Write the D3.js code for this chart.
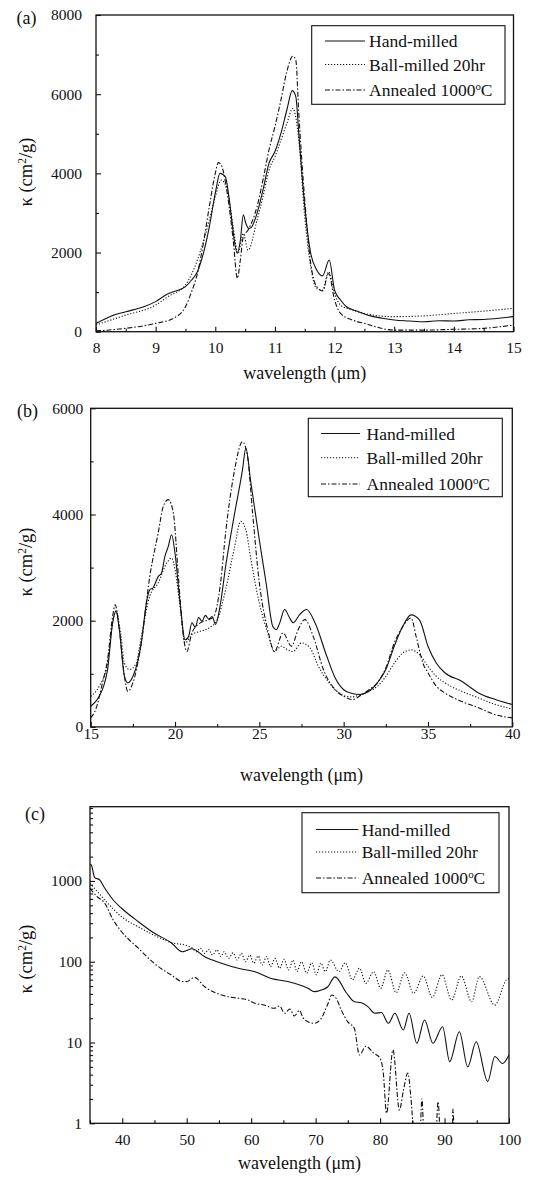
<!DOCTYPE html>
<html>
<head>
<meta charset="utf-8">
<script src="https://cdn.jsdelivr.net/npm/d3@7"></script>
<style>
  body { margin: 0; background: #fff; }
  svg { display: block; }
</style>
</head>
<body>
<svg id="chart" width="533" height="1180"></svg>
<script>
// legend labels and tick labels
const seriesNames = ['Hand-milled', 'Ball-milled 20hr', 'Annealed 1000°C'];
const aXTicks = [8, 9, 10, 11, 12, 13, 14, 15];
const aYTicks = [0, 2000, 4000, 6000, 8000];
const bXTicks = [15, 20, 25, 30, 35, 40];
const bYTicks = [0, 2000, 4000, 6000];
const cXTicks = [40, 50, 60, 70, 80, 90, 100];
const cYTicks = [1, 10, 100, 1000];

// (a) 8-15 um
const aHandX = [8.0, 8.15, 8.3, 8.5, 8.8, 9.0, 9.2, 9.3, 9.5, 9.6, 9.7, 9.8, 9.9, 10.0, 10.08, 10.17, 10.22, 10.27, 10.31, 10.37, 10.42, 10.47, 10.51, 10.56, 10.6, 10.7, 10.8, 10.9, 11.0, 11.1, 11.2, 11.29, 11.35, 11.4, 11.5, 11.6, 11.7, 11.8, 11.91, 12.0, 12.1, 12.2, 12.4, 12.6, 12.8, 13.0, 13.25, 13.5, 13.75, 14.0, 14.25, 14.5, 14.75, 15.0];
const aHandY = [210, 320, 420, 505, 630, 760, 950, 1010, 1140, 1300, 1515, 1980, 2650, 3500, 4000, 3910, 3500, 2900, 2400, 1980, 2300, 2950, 2750, 2610, 2630, 2990, 3580, 4250, 4550, 5010, 5600, 6090, 5940, 5010, 3160, 1980, 1560, 1410, 1810, 1050, 800, 630, 505, 400, 340, 295, 270, 250, 275, 270, 300, 310, 340, 380];
const aBallX = [8.0, 8.5, 9.0, 9.2, 9.5, 9.7, 9.9, 10.0, 10.1, 10.2, 10.3, 10.38, 10.47, 10.55, 10.7, 10.8, 10.9, 11.0, 11.1, 11.2, 11.3, 11.4, 11.5, 11.6, 11.7, 11.8, 11.9, 12.0, 12.1, 12.3, 12.5, 13.0, 13.5, 14.0, 14.5, 15.0];
const aBallY = [170, 420, 670, 880, 1180, 1810, 2820, 3410, 3830, 3580, 2650, 1980, 2480, 2060, 2820, 3410, 4080, 4420, 4840, 5260, 5640, 4840, 2900, 1640, 1090, 1050, 1515, 970, 670, 550, 460, 380, 400, 460, 520, 590];
const aAnnX = [8.0, 8.5, 9.0, 9.3, 9.5, 9.6, 9.7, 9.8, 9.9, 10.0, 10.05, 10.1, 10.2, 10.3, 10.37, 10.42, 10.47, 10.55, 10.7, 10.8, 10.9, 11.0, 11.1, 11.2, 11.3, 11.35, 11.4, 11.5, 11.6, 11.7, 11.8, 11.9, 12.0, 12.1, 12.3, 12.5, 13.0, 13.5, 14.0, 14.5, 15.0];
const aAnnY = [20, 85, 210, 340, 630, 1000, 1470, 2230, 3160, 4000, 4270, 4210, 3500, 2320, 1350, 1810, 2400, 2570, 3160, 3830, 4590, 5180, 5850, 6570, 6960, 6860, 5520, 3330, 1730, 1140, 1030, 1470, 800, 460, 295, 210, 40, 40, 60, 85, 170];

// (b) 15-40 um
const bHandX = [15.0, 15.3, 15.5, 15.8, 16.0, 16.3, 16.5, 16.7, 17.0, 17.2, 17.5, 17.8, 18.0, 18.3, 18.5, 18.7, 19.0, 19.2, 19.4, 19.6, 19.8, 20.0, 20.3, 20.6, 20.8, 21.0, 21.2, 21.4, 21.6, 21.8, 22.0, 22.2, 22.4, 22.7, 23.0, 23.5, 24.0, 24.2, 24.5, 25.0, 25.4, 25.8, 26.0, 26.2, 26.5, 26.8, 27.0, 27.4, 27.8, 28.3, 29.0, 29.5, 30.0, 30.5, 31.0, 31.5, 32.0, 32.5, 33.0, 33.5, 34.0, 34.5, 35.0, 35.5, 36.0, 37.0, 38.0, 39.0, 40.0];
const bHandY = [390, 480, 577, 800, 1080, 1960, 2180, 1830, 950, 830, 950, 1250, 1580, 2330, 2580, 2620, 2830, 2900, 3210, 3400, 3620, 3270, 2330, 1640, 1700, 1960, 1880, 2060, 1990, 2100, 2030, 2080, 1930, 2330, 3020, 3960, 4840, 5250, 4590, 3520, 2710, 1890, 1830, 1950, 2210, 2050, 1960, 2120, 2210, 1960, 1330, 920, 700, 630, 610, 670, 830, 1080, 1520, 1890, 2110, 2010, 1520, 1200, 1020, 860, 640, 515, 420];
const bBallX = [15.0, 15.5, 16.0, 16.3, 16.5, 16.8, 17.0, 17.3, 17.7, 18.0, 18.5, 19.0, 19.5, 19.8, 20.0, 20.3, 20.6, 21.0, 21.5, 22.0, 22.5, 23.0, 23.5, 23.9, 24.2, 24.5, 25.0, 25.5, 25.9, 26.3, 26.7, 27.0, 27.5, 28.0, 28.5, 29.0, 29.5, 30.0, 30.5, 31.0, 31.5, 32.0, 32.5, 33.0, 33.5, 34.0, 34.5, 35.0, 35.5, 36.0, 37.0, 38.0, 39.0, 40.0];
const bBallY = [577, 765, 1200, 1960, 2180, 1700, 1200, 1080, 1200, 1700, 2460, 2710, 3080, 3180, 2960, 2270, 1580, 1740, 1800, 1860, 2020, 2580, 3340, 3870, 3710, 3150, 2330, 1770, 1420, 1520, 1450, 1420, 1580, 1490, 1140, 890, 700, 590, 565, 610, 670, 765, 950, 1200, 1390, 1450, 1360, 1140, 950, 830, 670, 545, 420, 340];
const bAnnX = [15.0, 15.3, 15.7, 16.0, 16.3, 16.45, 16.7, 17.0, 17.2, 17.5, 18.0, 18.5, 19.0, 19.3, 19.6, 19.9, 20.2, 20.5, 20.7, 21.0, 21.5, 22.0, 22.3, 22.7, 23.0, 23.5, 24.0, 24.3, 24.6, 25.0, 25.5, 25.9, 26.4, 26.9, 27.3, 27.7, 28.2, 28.8, 29.5, 30.0, 30.5, 31.0, 31.5, 32.0, 32.5, 33.0, 33.5, 34.0, 34.3, 34.7, 35.0, 35.5, 36.0, 37.0, 38.0, 39.0, 40.0];
const bAnnY = [170, 330, 830, 1270, 2080, 2300, 1830, 950, 670, 830, 1580, 2830, 3650, 4150, 4280, 4030, 2830, 1700, 1420, 1770, 1960, 2020, 2080, 2710, 3650, 4780, 5370, 5090, 4030, 2710, 1830, 1420, 1770, 1520, 1830, 2020, 1700, 1080, 700, 577, 515, 590, 700, 830, 1110, 1580, 1890, 2050, 1700, 1200, 1020, 765, 640, 480, 360, 230, 170];

// (c) 35-100 um, log scale
const cHandX = [35.0, 35.2, 35.7, 36.5, 37.3, 38.6, 39.9, 42.5, 45.0, 47.6, 49.3, 50.0, 50.8, 52.8, 55.4, 58.0, 60.6, 63.1, 65.7, 68.0, 68.8, 69.8, 70.8, 71.9, 73.0, 74.8, 76.0, 77.1, 78.1, 79.2, 80.2, 81.3, 82.3, 83.6, 84.5, 85.7, 86.9, 88.2, 89.7, 90.8, 92.3, 93.6, 94.9, 96.7, 97.8, 99.0, 100];
const cHandY = [1600, 1577, 1110, 1028, 811, 581, 459, 313, 225, 172, 133, 138, 145, 115, 96, 83, 75, 62, 57, 50, 47, 42.6, 44.5, 49, 65, 41, 32, 31, 27.8, 23, 23.5, 17.3, 23, 14.3, 23, 9.8, 19, 9.8, 15.7, 5.8, 13.6, 5.0, 10.2, 3.3, 6.7, 5.5, 7];
const cBallX = [35.0, 36.0, 37.3, 38.6, 39.9, 42.5, 45.1, 47.7, 50.2, 50.9, 51.5, 52.1, 52.8, 53.4, 54.0, 54.7, 55.3, 55.8, 56.5, 57.2, 57.8, 58.5, 59.1, 59.8, 60.4, 61.1, 61.7, 62.4, 63.0, 63.7, 64.4, 65.1, 65.8, 66.5, 67.1, 67.8, 68.6, 69.4, 70.1, 70.8, 71.5, 72.3, 73.6, 74.6, 75.7, 76.8, 77.8, 79.0, 80.1, 81.2, 82.5, 83.8, 85.2, 86.7, 88.1, 89.6, 91.1, 92.6, 94.2, 95.4, 97.8, 99.6, 100];
const cBallY = [935, 760, 580, 450, 360, 270, 210, 172, 157, 147, 133, 147, 127, 142, 121, 140, 116, 133, 110, 129, 105, 127, 100, 121, 96, 118, 91, 116, 87, 110, 83, 107, 79, 105, 75.5, 100, 72, 97, 69, 96, 75.5, 105, 75.5, 97, 59.6, 83, 54, 75.5, 46.9, 79, 41.4, 73, 40.7, 66.6, 36.3, 69, 33.6, 66.6, 32, 65.5, 29, 59.6, 62];
const cAnnX = [35.0, 36.0, 37.3, 38.5, 39.9, 42.5, 45.0, 47.6, 49.3, 50.0, 50.5, 51.2, 52.8, 55.4, 58.0, 59.5, 60.6, 62.1, 63.6, 64.4, 65.2, 66.0, 66.7, 67.5, 68.0, 68.8, 69.8, 70.8, 71.9, 72.5, 73.2, 74.0, 75.0, 76.0, 76.8, 77.8, 79.0, 80.0, 80.5, 81.0, 82.0, 83.0, 83.6, 84.3, 84.8, 85.3, 85.8, 86.2, 86.5, 86.8, 87.5, 88.6, 89.0, 89.4, 90.5, 91.2, 91.3, 91.6, 93.0, 100];
const cAnnY = [810, 650, 529, 340, 235, 147, 95, 68.5, 57, 56.8, 59.5, 64, 49, 38.7, 35.3, 33.6, 30.6, 29, 26.5, 28.3, 23, 26, 21.3, 25, 20.5, 18.1, 17.3, 19.5, 30, 38.7, 35, 25, 18, 15, 7, 9, 7.4, 6.4, 4.2, 1.33, 8.1, 1.46, 2.5, 4.2, 2.0, 0.6, 0.4, 0.7, 2.0, 0.7, 0.4, 0.6, 1.85, 0.6, 0.4, 0.7, 1.5, 0.5, 0.4, 0.4];

const dashes = [null, '1.2,1.8', '5,2,1.5,2'];
const ink = '#111';
const serif = "'Liberation Serif', 'Times New Roman', Times, serif";

const svg = d3.select('#chart');

const panels = [
    {
        key: 'a', tag: '(a)', tagX: 16.5, tagY: 24,
        left: 96, top: 15, right: 513.5, bottom: 331.7,
        xDomain: [8, 15], xTicks: aXTicks, xMinorStep: 0.5,
        yDomain: [0, 8000], yTicks: aYTicks, yMinorStep: 1000, log: false,
        yPad: 14, xPad: 10.5, titleY: 379, yTitleX: 26, yTitleY: 172,
        series: [[aHandX, aHandY], [aBallX, aBallY], [aAnnX, aAnnY]],
        legend: {x0: 311.7, y0: 25.7, x1: 505, y1: 104.3, lx0: 325, lx1: 365, tx: 369, rows: [41, 64.5, 90]}
    },
    {
        key: 'b', tag: '(b)', tagX: 17, tagY: 417,
        left: 90.7, top: 408.3, right: 512.3, bottom: 726.9,
        xDomain: [15, 40], xTicks: bXTicks, xMinorStep: 2.5,
        yDomain: [0, 6000], yTicks: bYTicks, yMinorStep: 1000, log: false,
        yPad: 7.5, xPad: 1.5, titleY: 781, yTitleX: 26, yTitleY: 562,
        series: [[bHandX, bHandY], [bBallX, bBallY], [bAnnX, bAnnY]],
        legend: {x0: 308.3, y0: 418.3, x1: 502.3, y1: 496.7, lx0: 321, lx1: 360, tx: 366.5, rows: [433.5, 457.7, 484]}
    },
    {
        key: 'c', tag: '(c)', tagX: 25, tagY: 820,
        left: 90, top: 806.7, right: 509, bottom: 1123.3,
        xDomain: [35, 100], xTicks: cXTicks, xMinorStep: 5,
        yDomain: [1, 8300], yTicks: cYTicks, log: true,
        yPad: 8, xPad: 10.5, titleY: 1169, yTitleX: 26, yTitleY: 959,
        series: [[cHandX, cHandY], [cBallX, cBallY], [cAnnX, cAnnY]],
        legend: {x0: 302, y0: 812.7, x1: 499, y1: 892.7, lx0: 316, lx1: 358.3, tx: 361.7, rows: [829.5, 852, 878]}
    }
];

function addSuperText(sel, parts) {
    // parts: [normal, superscript, normal]
    sel.append('tspan').text(parts[0]);
    sel.append('tspan').attr('baseline-shift', 'super').attr('font-size', '62%').text(parts[1]);
    sel.append('tspan').text(parts[2]);
}

function drawPanel(p) {
    var g = svg.append('g').attr('class', 'panel-' + p.key);
    var x = d3.scaleLinear().domain(p.xDomain).range([p.left, p.right]);
    var y = (p.log ? d3.scaleLog() : d3.scaleLinear()).domain(p.yDomain).range([p.bottom, p.top]);

    var clipId = 'clip-' + p.key;
    svg.append('clipPath').attr('id', clipId).append('rect')
        .attr('x', p.left).attr('y', p.top)
        .attr('width', p.right - p.left).attr('height', p.bottom - p.top);

    var line = d3.line()
        .x(function (d) { return x(d[0]); })
        .y(function (d) { return y(d[1]); })
        .curve(d3.curveMonotoneX);

    p.series.forEach(function (s, i) {
        g.append('path')
            .attr('d', line(d3.zip(s[0], s[1])))
            .attr('clip-path', 'url(#' + clipId + ')')
            .attr('fill', 'none')
            .attr('stroke', ink)
            .attr('stroke-width', 1.1)
            .attr('stroke-dasharray', dashes[i]);
    });

    // minor ticks
    var xMinor = d3.range(p.xDomain[0], p.xDomain[1] + 1e-9, p.xMinorStep)
        .filter(function (v) { return p.xTicks.indexOf(v) < 0; });
    var yMinor;
    if (p.log) {
        yMinor = [];
        p.yTicks.forEach(function (dec) {
            d3.range(2, 10).forEach(function (k) {
                if (dec * k < p.yDomain[1]) yMinor.push(dec * k);
            });
        });
    } else {
        yMinor = d3.range(p.yDomain[0], p.yDomain[1], p.yMinorStep)
            .filter(function (v) { return p.yTicks.indexOf(v) < 0; });
    }

    var xAxis = d3.axisBottom(x).tickValues(p.xTicks).tickSize(-5).tickPadding(p.xPad).tickFormat(d3.format('d'));
    var xAxisMinor = d3.axisBottom(x).tickValues(xMinor).tickSize(-3).tickFormat('');
    var yAxis = d3.axisLeft(y).tickValues(p.yTicks).tickSize(-5).tickPadding(p.yPad).tickFormat(d3.format('d'));
    var yAxisMinor = d3.axisLeft(y).tickValues(yMinor).tickSize(-3).tickFormat('');

    [[xAxis, 'x'], [xAxisMinor, 'x'], [yAxis, 'y'], [yAxisMinor, 'y']].forEach(function (a) {
        var ag = g.append('g')
            .attr('transform', a[1] === 'x' ? 'translate(0,' + p.bottom + ')' : 'translate(' + p.left + ',0)')
            .call(a[0]);
        ag.attr('font-family', serif).attr('font-size', 15.5);
        ag.select('.domain').remove();
        ag.selectAll('line').attr('stroke', ink).attr('stroke-width', 1.1);
        ag.selectAll('text').attr('fill', ink);
    });

    // frame
    g.append('rect')
        .attr('x', p.left).attr('y', p.top)
        .attr('width', p.right - p.left).attr('height', p.bottom - p.top)
        .attr('fill', 'none').attr('stroke', ink).attr('stroke-width', 1.3);

    // legend
    var L = p.legend;
    g.append('rect')
        .attr('x', L.x0).attr('y', L.y0)
        .attr('width', L.x1 - L.x0).attr('height', L.y1 - L.y0)
        .attr('fill', '#fff').attr('stroke', ink).attr('stroke-width', 1.1);
    seriesNames.forEach(function (name, i) {
        g.append('line')
            .attr('x1', L.lx0).attr('x2', L.lx1)
            .attr('y1', L.rows[i]).attr('y2', L.rows[i])
            .attr('stroke', ink).attr('stroke-width', 1.1)
            .attr('stroke-dasharray', dashes[i]);
        var t = g.append('text')
            .attr('x', L.tx).attr('y', L.rows[i] + 6)
            .attr('font-family', serif)
            .attr('font-size', 17.5).attr('fill', ink);
        if (name.indexOf('°') >= 0) {
            var parts = name.split('°');
            addSuperText(t, [parts[0], 'o', parts[1]]);
        } else {
            t.text(name);
        }
    });

    // panel tag
    g.append('text').attr('x', p.tagX).attr('y', p.tagY)
        .attr('font-family', serif)
        .attr('font-size', 18).attr('fill', ink).text(p.tag);

    // axis titles
    g.append('text')
        .attr('x', (p.left + p.right) / 2).attr('y', p.titleY)
        .attr('font-family', serif)
        .attr('text-anchor', 'middle').attr('font-size', 18).attr('fill', ink)
        .text('wavelength (μm)');

    var yt = g.append('text')
        .attr('transform', 'translate(' + p.yTitleX + ',' + p.yTitleY + ') rotate(-90)')
        .attr('font-family', serif)
        .attr('text-anchor', 'middle').attr('dy', '0.35em')
        .attr('font-size', 18.5).attr('fill', ink);
    addSuperText(yt, ['κ (cm', '2', '/g)']);
}

panels.forEach(drawPanel);
</script>
</body>
</html>
